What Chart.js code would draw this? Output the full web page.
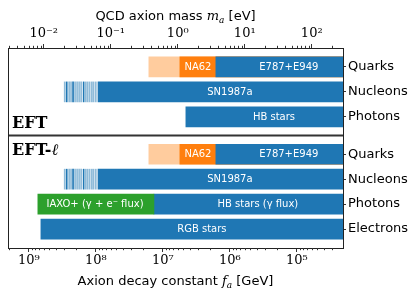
<!DOCTYPE html>
<html><head><meta charset="utf-8">
<script src="https://cdn.jsdelivr.net/npm/chart.js@4"></script>
<style>html,body{margin:0;padding:0;background:#fff}</style>
</head><body>
<canvas id="c" width="415" height="295"></canvas>
<script>
// ---- data ----
const rowLabels = ['Quarks','Nucleons','Photons','Quarks','Nucleons','Photons','Electrons'];
const rowPositions = [0, 1, 2, 3.5, 4.5, 5.5, 6.5];
const separatorRow = 2.75;
const faMajorTicks = [1e9, 1e8, 1e7, 1e6, 1e5];
const maMajorTicks = [1e-2, 1e-1, 1e0, 1e1, 1e2];
const faRange = [2.05e4, 2.05e9];      // GeV
const maFaProduct = 6.0e6;             // m_a[eV] * f_a[GeV]
const faEdge = 1e4;                    // bars run past the right edge

// [row, fa_left, fa_right]
const peachBars = [[0, 1.62e7, faEdge], [3.5, 1.62e7, faEdge]];
const na62Bars  = [[0, 5.58e6, faEdge], [3.5, 5.58e6, faEdge]];
const blueBars  = [[0, 1.62e6, faEdge], [3.5, 1.62e6, faEdge],
                   [1, 9.3e7, faEdge],  [4.5, 9.3e7, faEdge],
                   [2, 4.54e6, faEdge], [5.5, 1.36e7, faEdge],
                   [6.5, 6.62e8, faEdge]];
const greenBars = [[5.5, 7.35e8, 1.36e7]];
const stripeRows = [1, 4.5];
const stripeFa = [2.97e8, 2.77e8, 2.55e8, 2.39e8, 2.23e8, 2.08e8, 1.94e8, 1.81e8,
                  1.69e8, 1.55e8, 1.44e8, 1.35e8, 1.26e8, 1.17e8, 1.10e8, 1.02e8];
const stripeDark = [0,1,0,0,1,0,0,0,0,1,0,0,0,0,0,0];

const barLabels = ['NA62','E787+E949','SN1987a','HB stars','NA62','E787+E949','SN1987a',
                   'IAXO+ (γ + e⁻ flux)','HB stars (γ flux)','RGB stars'];
const barLabelFa = [3.0e6, 1.32e5, 1.0e6, 2.2e5, 3.0e6, 1.32e5, 1.0e6, 1.03e8, 3.82e5, 2.62e6];
const barLabelRow = [0, 0, 1, 2, 3.5, 3.5, 4.5, 5.5, 5.5, 6.5];

// ---- helpers ----
const SUP = {'-':'⁻','0':'⁰','1':'¹','2':'²','3':'³','4':'⁴','5':'⁵','6':'⁶','7':'⁷','8':'⁸','9':'⁹'};
function powLabel(v){
  const e = Math.round(Math.log10(v));
  return '10' + String(e).split('').map(c=>SUP[c]).join('');
}
const toPts = arr => arr.map(b => ({y: b[0], x: [b[1], b[2]]}));
const stripePts = [], stripeCols = [];
stripeRows.forEach(r => stripeFa.forEach((f,i) => {
  stripePts.push({y: r, x: [f, f/1.035]});
  stripeCols.push(stripeDark[i] ? '#1f77b4' : 'rgba(31,119,180,0.5)');
}));

function drawRich(ctx, parts, cx, base){
  let w = 0;
  parts.forEach(p => { ctx.font = p[1]; w += ctx.measureText(p[0]).width; });
  let xx = cx - w/2;
  parts.forEach(p => { ctx.font = p[1]; ctx.fillText(p[0], xx, base + (p[2]||0)); xx += ctx.measureText(p[0]).width; });
}

const deco = {
  id: 'deco',
  afterDatasetsDraw(chart){
    const {ctx, chartArea: a, scales: {x, y}} = chart;
    ctx.save();
    ctx.font = '10px "DejaVu Sans"';
    ctx.fillStyle = '#fff';
    ctx.textAlign = 'center';
    ctx.textBaseline = 'middle';
    barLabels.forEach((t,i) => ctx.fillText(t, x.getPixelForValue(barLabelFa[i]), y.getPixelForValue(barLabelRow[i]) + 0.5));
    // separator
    const sy = y.getPixelForValue(separatorRow);
    ctx.strokeStyle = '#333';
    ctx.lineWidth = 2;
    ctx.beginPath(); ctx.moveTo(a.left, sy); ctx.lineTo(a.right, sy); ctx.stroke();
    ctx.restore();
  },
  afterDraw(chart){
    const {ctx, chartArea: a, scales: {x, x2}} = chart;
    ctx.save();
    // frame
    ctx.strokeStyle = '#222';
    ctx.lineWidth = 1;
    ctx.strokeRect(Math.round(a.left)+0.5, Math.round(a.top)+0.5, Math.round(a.right-a.left), Math.round(a.bottom-a.top));
    // minor ticks
    ctx.strokeStyle = '#333';
    ctx.beginPath();
    for (let e = 3; e <= 9; e++) for (let s = 2; s <= 9; s++) {
      const v = s * Math.pow(10, e);
      if (v < faRange[0] || v > faRange[1]) continue;
      const px = Math.round(x.getPixelForValue(v)) + 0.5;
      ctx.moveTo(px, a.bottom); ctx.lineTo(px, a.bottom + 2.2);
    }
    for (let e = -4; e <= 3; e++) for (let s = 2; s <= 9; s++) {
      const v = s * Math.pow(10, e);
      if (v < x2.min || v > x2.max) continue;
      const px = Math.round(x2.getPixelForValue(v)) + 0.5;
      ctx.moveTo(px, a.top); ctx.lineTo(px, a.top - 2.2);
    }
    ctx.stroke();
    // titles
    ctx.fillStyle = '#000';
    ctx.textBaseline = 'alphabetic';
    ctx.textAlign = 'left';
    const cx = (a.left + a.right) / 2;
    drawRich(ctx, [['QCD axion mass ', '13px "DejaVu Sans"'], ['m', 'italic 13px "DejaVu Serif"'], ['a', 'italic 9px "DejaVu Serif"', 3], [' [eV]', '13px "DejaVu Sans"']], cx, 20);
    drawRich(ctx, [['Axion decay constant ', '13px "DejaVu Sans"'], ['f', 'italic 13px "DejaVu Serif"'], ['a', 'italic 9px "DejaVu Serif"', 3], [' [GeV]', '13px "DejaVu Sans"']], cx, 285);
    // block labels
    ctx.font = 'bold 16px "DejaVu Serif"';
    ctx.fillText('EFT', 12, 128);
    ctx.fillText('EFT-', 12, 155);
    const w = ctx.measureText('EFT-').width;
    ctx.font = 'italic 16px "DejaVu Serif"';
    ctx.fillText('ℓ', 12 + w, 155);
    ctx.restore();
  }
};

const axisFontSerif = {family: 'DejaVu Serif', size: 13};
new Chart(document.getElementById('c'), {
  type: 'bar',
  data: {datasets: [
    {data: toPts(greenBars), backgroundColor: '#2ca02c', order: 1},
    {data: stripePts, backgroundColor: stripeCols, order: 2},
    {data: toPts(blueBars), backgroundColor: '#1f77b4', order: 3},
    {data: toPts(na62Bars), backgroundColor: '#ff7f0e', order: 4},
    {data: toPts(peachBars), backgroundColor: '#ffcc9e', order: 5}
  ]},
  options: {
    responsive: false, animation: false, devicePixelRatio: 1,
    indexAxis: 'y',
    layout: {padding: {left: 8, right: 0, top: 0, bottom: 0}},
    plugins: {legend: {display: false}, tooltip: {enabled: false}},
    datasets: {bar: {grouped: false, barThickness: 20, borderWidth: 0}},
    scales: {
      x: {
        type: 'logarithmic', position: 'bottom', reverse: true,
        min: faRange[0], max: faRange[1], offset: false,
        afterBuildTicks: s => { s.ticks = faMajorTicks.map(v => ({value: v})); },
        afterFit: s => { s.height = 47; },
        ticks: {callback: v => powLabel(v), font: axisFontSerif, color: '#000', padding: 1, maxRotation: 0, autoSkip: false},
        grid: {drawOnChartArea: false, drawTicks: true, tickLength: 4, tickColor: '#333', offset: false},
        border: {display: false}
      },
      x2: {
        type: 'logarithmic', position: 'top', offset: false,
        min: maFaProduct / faRange[1], max: maFaProduct / faRange[0],
        afterBuildTicks: s => { s.ticks = maMajorTicks.map(v => ({value: v})); },
        afterFit: s => { s.height = 48; },
        ticks: {callback: v => powLabel(v), font: axisFontSerif, color: '#000', padding: 3, maxRotation: 0, autoSkip: false},
        grid: {drawOnChartArea: false, drawTicks: true, tickLength: 4, tickColor: '#333', offset: false},
        border: {display: false}
      },
      y: {
        type: 'linear', position: 'right', reverse: true, offset: false,
        min: -0.76, max: 7.26,
        afterBuildTicks: s => { s.ticks = rowPositions.map(v => ({value: v})); },
        afterFit: s => { s.width = 72; },
        ticks: {callback: v => rowLabels[rowPositions.indexOf(v)], font: {family: 'DejaVu Sans', size: 13}, color: '#000', padding: 2, autoSkip: false},
        grid: {drawOnChartArea: false, drawTicks: true, tickLength: 3, tickColor: '#333', offset: false},
        border: {display: false}
      }
    }
  },
  plugins: [deco]
});
</script>
</body></html>
